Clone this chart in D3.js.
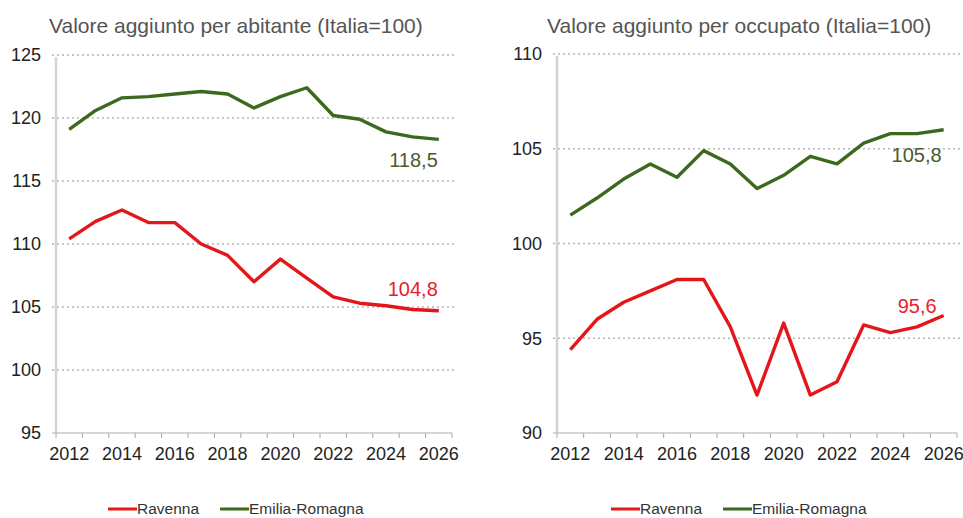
<!DOCTYPE html>
<html>
<head>
<meta charset="utf-8">
<script src="https://cdn.jsdelivr.net/npm/d3@7"></script>
<style>
  body { margin: 0; background: #fff; }
  svg { font-family: "Liberation Sans", Arial, sans-serif; }
</style>
</head>
<body>
<script>
// anni sull'asse delle categorie
const years = [2012, 2013, 2014, 2015, 2016, 2017, 2018, 2019, 2020, 2021, 2022, 2023, 2024, 2025, 2026];

// Valore aggiunto per abitante (Italia=100)
const abitRavenna = [110.4, 111.8, 112.7, 111.7, 111.7, 110.0, 109.1, 107.0, 108.8, 107.3, 105.8, 105.3, 105.1, 104.8, 104.7];
const abitEmilia = [119.1, 120.6, 121.6, 121.7, 121.9, 122.1, 121.9, 120.8, 121.7, 122.4, 120.2, 119.9, 118.9, 118.5, 118.3];
const abitTicks = [95, 100, 105, 110, 115, 120, 125];

// Valore aggiunto per occupato (Italia=100)
const occRavenna = [94.4, 96.0, 96.9, 97.5, 98.1, 98.1, 95.6, 92.0, 95.8, 92.0, 92.7, 95.7, 95.3, 95.6, 96.2];
const occEmilia = [101.5, 102.4, 103.4, 104.2, 103.5, 104.9, 104.2, 102.9, 103.6, 104.6, 104.2, 105.3, 105.8, 105.8, 106.0];
const occTicks = [90, 95, 100, 105, 110];

const seriesNames = ["Ravenna", "Emilia-Romagna"];

const red = "#e3161b",
  green = "#3b6a1f";

const svg = d3
  .select("body")
  .append("svg")
  .attr("width", 963)
  .attr("height", 518);

function drawChart(cfg) {
  const x = d3
    .scaleBand()
    .domain(years)
    .range([cfg.left, cfg.right])
    .padding(0);

  const y = d3
    .scaleLinear()
    .domain(d3.extent(cfg.ticks))
    .range([cfg.bottom, cfg.top]);

  const g = svg.append("g");

  // titolo
  g.append("text")
    .attr("x", cfg.titleX)
    .attr("y", 33)
    .attr("fill", "#555")
    .style("font-size", "21px")
    .text(cfg.title);

  // griglia tratteggiata
  g.selectAll(".grid")
    .data(cfg.ticks.slice(1))
    .enter()
    .append("line")
    .attr("x1", cfg.left - 4)
    .attr("x2", cfg.right + cfg.gridExtra)
    .attr("y1", (d) => y(d))
    .attr("y2", (d) => y(d))
    .attr("stroke", "#b5b5b5")
    .attr("stroke-width", 1.5)
    .attr("stroke-dasharray", "2,3");

  // asse verticale
  g.append("line")
    .attr("x1", cfg.left)
    .attr("x2", cfg.left)
    .attr("y1", y(cfg.ticks[cfg.ticks.length - 1]) + 2)
    .attr("y2", cfg.bottom)
    .attr("stroke", "#d3d3d3")
    .attr("stroke-width", 2.5);

  // asse orizzontale con tacche fra le categorie
  g.append("line")
    .attr("x1", cfg.left - 4)
    .attr("x2", cfg.right)
    .attr("y1", cfg.bottom)
    .attr("y2", cfg.bottom)
    .attr("stroke", "#c8c8c8")
    .attr("stroke-width", 1.5);

  g.selectAll(".tick-mark")
    .data(years.concat(["end"]))
    .enter()
    .append("line")
    .attr("x1", (d) => (d === "end" ? x.range()[1] : x(d)))
    .attr("x2", (d) => (d === "end" ? x.range()[1] : x(d)))
    .attr("y1", cfg.bottom)
    .attr("y2", cfg.bottom + 5)
    .attr("stroke", "#a8a8a8")
    .attr("stroke-width", 1);

  // etichette asse y
  g.selectAll(".ylab")
    .data(cfg.ticks)
    .enter()
    .append("text")
    .attr("x", cfg.left - 15)
    .attr("y", (d) => y(d))
    .attr("dy", "0.35em")
    .attr("text-anchor", "end")
    .attr("fill", "#222")
    .style("font-size", "18px")
    .text((d) => d);

  // etichette asse x (ogni due anni)
  g.selectAll(".xlab")
    .data(years.filter((d) => d % 2 === 0))
    .enter()
    .append("text")
    .attr("x", (d) => x(d) + x.bandwidth() / 2)
    .attr("y", cfg.bottom + 27)
    .attr("text-anchor", "middle")
    .attr("fill", "#222")
    .style("font-size", "18px")
    .text((d) => d);

  const line = d3
    .line()
    .x((d, i) => x(years[i]) + x.bandwidth() / 2)
    .y((d) => y(d));

  const series = [
    { values: cfg.ravenna, color: red },
    { values: cfg.emilia, color: green },
  ];

  g.selectAll(".serie")
    .data(series)
    .enter()
    .append("path")
    .attr("d", (d) => line(d.values))
    .attr("fill", "none")
    .attr("stroke", (d) => d.color)
    .attr("stroke-width", 3.4)
    .attr("stroke-linejoin", "round");

  // etichette ultimo valore
  cfg.labels.forEach((l) => {
    const vals = l.serie === 0 ? cfg.ravenna : cfg.emilia;
    g.append("text")
      .attr("x", x(years[years.length - 1]) + x.bandwidth() / 2 + l.dx)
      .attr("y", y(vals[vals.length - 1]) + l.dy)
      .attr("text-anchor", "end")
      .attr("fill", l.color)
      .style("font-size", "20px")
      .text(l.text);
  });

  // legenda
  const legend = g
    .selectAll(".legend")
    .data(seriesNames)
    .enter()
    .append("g")
    .attr("transform", (d, i) => "translate(" + (cfg.legendX + i * 112) + ",509)");

  legend
    .append("line")
    .attr("x1", 0)
    .attr("x2", 29)
    .attr("stroke", (d, i) => (i === 0 ? red : green))
    .attr("stroke-width", 3);

  legend
    .append("text")
    .attr("x", 29)
    .attr("dy", "0.35em")
    .attr("fill", "#333")
    .style("font-size", "15.5px")
    .text((d) => d);
}

drawChart({
  title: "Valore aggiunto per abitante (Italia=100)",
  titleX: 49,
  left: 56,
  right: 452,
  top: 55,
  bottom: 433,
  gridExtra: 2,
  ticks: abitTicks,
  ravenna: abitRavenna,
  emilia: abitEmilia,
  legendX: 108,
  labels: [
    { serie: 1, text: "118,5", dx: -1, dy: 28, color: "#4a5a32" },
    { serie: 0, text: "104,8", dx: -1, dy: -15, color: "#e8202a" },
  ],
});

drawChart({
  title: "Valore aggiunto per occupato (Italia=100)",
  titleX: 547,
  left: 557,
  right: 957,
  top: 54,
  bottom: 433,
  gridExtra: 8,
  ticks: occTicks,
  ravenna: occRavenna,
  emilia: occEmilia,
  legendX: 611,
  labels: [
    { serie: 1, text: "105,8", dx: -2, dy: 32, color: "#4a5a32" },
    { serie: 0, text: "95,6", dx: -7, dy: -3, color: "#e8202a" },
  ],
});
</script>
</body>
</html>
